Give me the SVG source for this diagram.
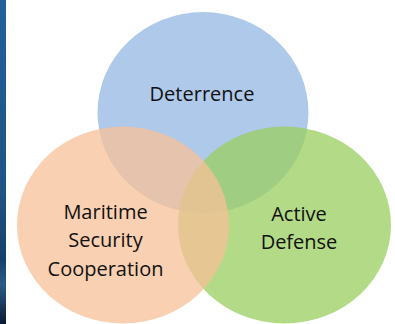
<svg xmlns="http://www.w3.org/2000/svg" width="395" height="324" viewBox="0 0 395 324">
  <defs>
    <linearGradient id="strip" x1="0" y1="0" x2="0" y2="1">
      <stop offset="0" stop-color="#22619a"/>
      <stop offset="0.6" stop-color="#1d5484"/>
      <stop offset="0.8" stop-color="#16406a"/>
      <stop offset="0.88" stop-color="#2a5a86"/>
      <stop offset="1" stop-color="#0b1a33"/>
    </linearGradient>
  </defs>
  <style>
    .c { opacity: 0.75; }
    .t { font-family: "Open Sans", "Liberation Sans", sans-serif; font-size: 20px; fill: #111111; text-anchor: middle; }
  </style>
  <rect x="0" y="0" width="395" height="324" fill="#ffffff"/>
  <rect x="0" y="0" width="6" height="324" fill="url(#strip)"/>
  <g id="deterrence">
    <ellipse class="c" cx="203" cy="112.5" rx="105.5" ry="100.5" fill="#93b7e2"/>
    <text class="t" x="202" y="100.5">Deterrence</text>
  </g>
  <g id="active-defense">
    <ellipse class="c" cx="284.5" cy="225" rx="106.5" ry="98.5" fill="#9ace5e"/>
    <text class="t" x="299" y="221">Active</text>
    <text class="t" x="299" y="249">Defense</text>
  </g>
  <g id="maritime-security-cooperation">
    <ellipse class="c" cx="123" cy="225" rx="106" ry="98.5" fill="#f7c098"/>
    <text class="t" x="105.5" y="218.5">Maritime</text>
    <text class="t" x="105.5" y="247">Security</text>
    <text class="t" x="105.5" y="275.5">Cooperation</text>
  </g>
  <g id="connectors"/>
</svg>
